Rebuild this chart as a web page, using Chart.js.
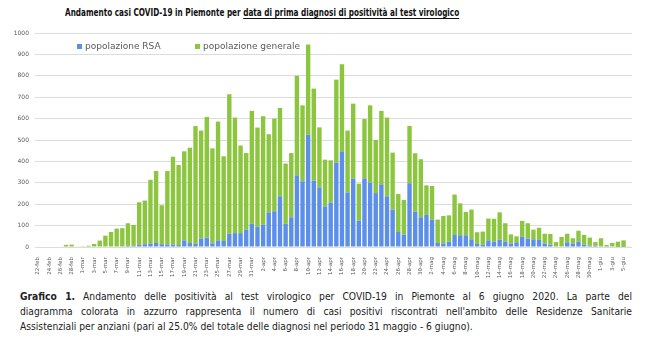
<!DOCTYPE html>
<html>
<head>
<meta charset="utf-8">
<script src="https://cdn.jsdelivr.net/npm/chart.js@4"></script>
<style>
  body { margin: 0; background: #fff; width: 650px; height: 345px; overflow: hidden; position: relative; font-family: "DejaVu Sans", sans-serif; }
  #title { position: absolute; top: 6px; left: 65px; white-space: nowrap; font-size: 10.5px; font-weight: bold; color: #111; transform-origin: 0 0; transform: scaleX(0.695); }
  #title u { text-decoration-thickness: 1px; text-underline-offset: 2px; }
  #wrap { position: absolute; top: 0; left: 0; width: 650px; height: 280px; }
  #caption { position: absolute; top: 289px; left: 20px; width: 680px; font-size: 10.2px; line-height: 15px; color: #222; transform-origin: 0 0; transform: scaleX(0.9); }
  #caption div { text-align: justify; text-align-last: justify; white-space: nowrap; }
  #caption div.last { text-align-last: left; }
</style>
</head>
<body>
<div id="title">Andamento casi COVID-19 in Piemonte per <u>data di prima diagnosi di positività al test virologico</u></div>
<div id="wrap"><canvas id="covidChart"></canvas></div>
<div id="caption">
  <div><b>Grafico 1.</b> Andamento delle positività al test virologico per COVID-19 in Piemonte al 6 giugno 2020. La parte del</div>
  <div>diagramma colorata in azzurro rappresenta il numero di casi positivi riscontrati nell'ambito delle Residenze Sanitarie</div>
  <div class="last">Assistenziali per anziani (pari al 25.0% del totale delle diagnosi nel periodo 31 maggio - 6 giugno).</div>
</div>
<script>
const days = [
  '22-feb','23-feb','24-feb','25-feb','26-feb','27-feb','28-feb','29-feb',
  '1-mar','2-mar','3-mar','4-mar','5-mar','6-mar','7-mar','8-mar','9-mar','10-mar',
  '11-mar','12-mar','13-mar','14-mar','15-mar','16-mar','17-mar','18-mar','19-mar','20-mar',
  '21-mar','22-mar','23-mar','24-mar','25-mar','26-mar','27-mar','28-mar','29-mar','30-mar','31-mar',
  '1-apr','2-apr','3-apr','4-apr','5-apr','6-apr','7-apr','8-apr','9-apr','10-apr',
  '11-apr','12-apr','13-apr','14-apr','15-apr','16-apr','17-apr','18-apr','19-apr','20-apr',
  '21-apr','22-apr','23-apr','24-apr','25-apr','26-apr','27-apr','28-apr','29-apr','30-apr',
  '1-mag','2-mag','3-mag','4-mag','5-mag','6-mag','7-mag','8-mag','9-mag','10-mag',
  '11-mag','12-mag','13-mag','14-mag','15-mag','16-mag','17-mag','18-mag','19-mag','20-mag',
  '21-mag','22-mag','23-mag','24-mag','25-mag','26-mag','27-mag','28-mag','29-mag','30-mag','31-mag',
  '1-giu','2-giu','3-giu','4-giu','5-giu','6-giu'
];

// popolazione RSA (blue, bottom of the stack)
const rsa = [
  0,0,0,0,0,0,0,0,0,0,
  0,0,0,0,0,0,6,6,10,13,
  16,19,13,12,11,9,31,19,16,40,
  44,17,31,28,62,65,65,81,108,95,
  104,162,167,237,108,139,335,307,524,310,
  279,190,208,395,447,255,319,123,321,301,
  252,293,237,175,70,58,298,165,139,150,
  128,19,17,25,56,55,55,36,14,11,
  31,25,34,25,16,22,48,39,36,33,
  16,11,3,3,22,16,25,11,6,6,
  3,2,0,1,1,0
];

// popolazione generale (green, on top)
const generale = [
  0,0,0,0,0,10,11,3,1,6,
  14,30,53,70,86,88,105,97,199,204,
  298,336,182,343,411,374,416,445,549,504,
  564,444,555,396,652,540,409,358,528,463,
  507,365,433,413,282,300,465,355,422,430,
  280,218,197,387,407,289,351,173,277,361,
  248,343,368,266,178,162,268,273,271,138,
  157,109,128,123,189,149,109,139,55,61,
  102,107,128,86,43,28,74,72,45,57,
  46,50,20,44,40,25,51,45,38,17,
  38,7,19,24,30,3
];

const yTicks = [0, 100, 200, 300, 400, 500, 600, 700, 800, 900, 1000];

const blue = '#5b8fe9';
const green = '#8cc63f';

// legend drawn inside the plot, under the 1000 line
const legendInside = {
  id: 'legendInside',
  afterDatasetsDraw(chart) {
    const ctx = chart.ctx;
    ctx.save();
    ctx.font = '9px "DejaVu Sans", sans-serif';
    ctx.textBaseline = 'middle';
    ctx.fillStyle = blue;
    ctx.fillRect(77, 44, 5, 5);
    ctx.fillStyle = '#595959';
    ctx.fillText(chart.data.datasets[0].label, 85, 47);
    ctx.fillStyle = green;
    ctx.fillRect(195, 44, 5, 5);
    ctx.fillStyle = '#595959';
    ctx.fillText(chart.data.datasets[1].label, 203, 47);
    ctx.restore();
  }
};

new Chart(document.getElementById('covidChart'), {
  type: 'bar',
  data: {
    labels: days,
    datasets: [
      { label: 'popolazione RSA', data: rsa, backgroundColor: blue, barPercentage: 0.78, categoryPercentage: 1 },
      { label: 'popolazione generale', data: generale, backgroundColor: green, barPercentage: 0.78, categoryPercentage: 1 }
    ]
  },
  options: {
    responsive: true,
    maintainAspectRatio: false,
    animation: false,
    layout: { padding: { top: 33, right: 18, left: 0, bottom: 0 } },
    plugins: { legend: { display: false }, tooltip: { enabled: false } },
    scales: {
      x: {
        stacked: true,
        grid: { display: false },
        border: { display: false },
        afterFit(scale) { scale.height = 33; },
        ticks: {
          autoSkip: false, maxRotation: 90, minRotation: 90,
          font: { size: 5.5, family: '"DejaVu Sans", sans-serif' }, color: '#595959', padding: 2,
          callback(v, i) { return i % 2 === 0 ? days[i] : ''; }
        }
      },
      y: {
        stacked: true,
        min: 0, max: 1000,
        afterFit(scale) { scale.width = 35; },
        afterBuildTicks(scale) { scale.ticks = yTicks.map(v => ({ value: v })); },
        grid: { color: '#dcdcdc', lineWidth: 1, drawTicks: false },
        border: { display: false },
        ticks: {
          font: { size: 6, family: '"DejaVu Sans", sans-serif' }, color: '#595959', padding: 6,
          callback(v) { return String(v); }
        }
      }
    }
  },
  plugins: [legendInside]
});
</script>
</body>
</html>
